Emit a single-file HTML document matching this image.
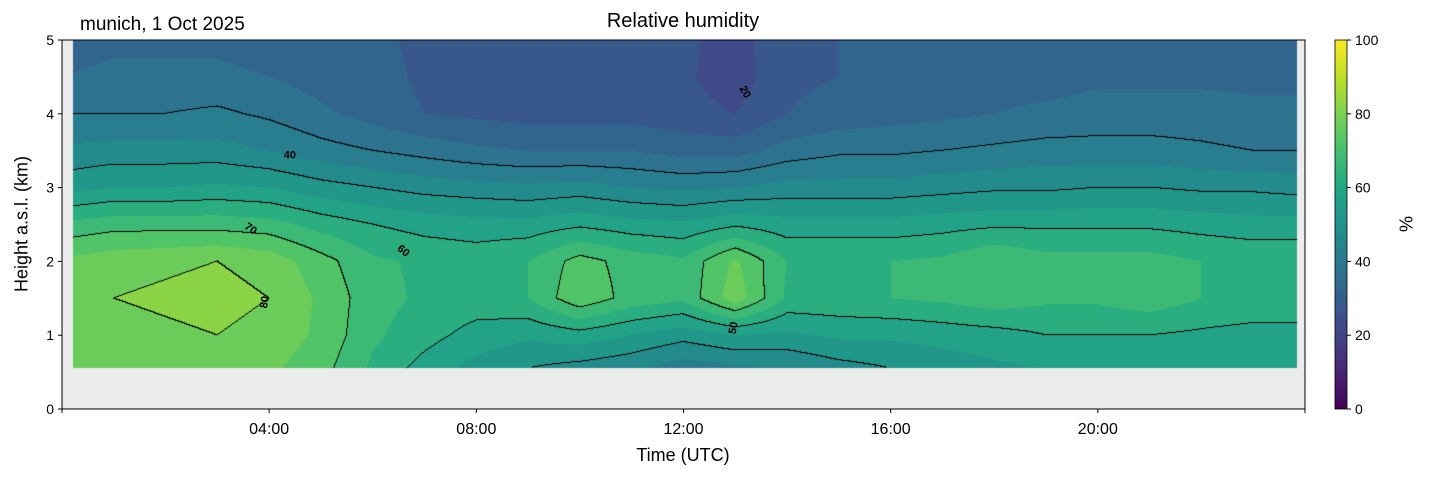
<!DOCTYPE html>
<html><head><meta charset="utf-8"><style>
body{margin:0;background:#fff;font-family:"Liberation Sans","DejaVu Sans",sans-serif;}
#wrap{position:relative;width:1429px;height:478px;overflow:hidden;}
.t{position:absolute;white-space:nowrap;color:#000;}
</style></head><body>
<div id="wrap">
<canvas id="cv" width="1243" height="369" style="position:absolute;left:62px;top:40px"></canvas>
<svg id="sv" width="1429" height="478" style="position:absolute;left:0;top:0"></svg>
<div class="t" style="left:80px;top:14px;font-size:19px">munich, 1 Oct 2025</div>
<div class="t" style="left:683px;top:10px;font-size:20px;transform:translateX(-50%)">Relative humidity</div>
<div class="t" style="left:683px;top:445px;font-size:18px;transform:translateX(-50%)">Time (UTC)</div>
<div class="t" style="left:22px;top:224px;font-size:18px;transform:translate(-50%,-50%) rotate(-90deg)">Height a.s.l. (km)</div>
<div class="t" style="left:1407px;top:224px;font-size:18px;transform:translate(-50%,-50%) rotate(-90deg)">%</div>
</div>
<script>
const hours=[0,1,2,3,4,5,6,7,8,9,10,11,12,13,14,15,16,17,18,19,20,21,22,23,24];
const heights=[0.55,1.0,1.5,2.0,2.5,3.0,3.5,4.0,4.5,5.0];
const rh055=[75,77,78,78,76,72,64,58,53,50,48,46,42,44,45,48,50,52,54,55,56,57,56,55,55];
const rh100=[76,78,79,80,78,74,66,62,58,56,58,55,52,55,54,56,56,57,58,60,60,60,59,58,58];
const rh150=[78,80,81,82,80,74,67,64,63,65,74,68,66,78,64,64,65,66,68,66,66,68,65,64,64];
const rh200=[76,78,79,80,78,72,66,64,63,65,72,68,66,76,65,65,65,66,70,67,67,67,65,64,64];
const rh250=[66,68,68,68,67,63,60,58,57,57,59,57,56,59,57,57,57,58,59,59,59,59,58,57,57];
const rh300=[53,55,55,56,55,52,50,48,47,46,47,45,44,45,47,47,47,48,49,49,50,50,49,49,48];
const rh350=[46,47,47,47,45,42,40,38,36,35,35,35,33,33,37,39,39,40,41,42,42,42,41,40,40];
const rh400=[40,40,40,41,39,36,33,30,29,28,28,28,27,25,30,32,33,34,35,36,37,37,37,36,36];
const rh450=[35,36,36,36,35,33,32,29,28,27,26,27,26,22,29,30,31,32,33,33,34,34,34,34,34];
const rh500=[33,34,34,34,33,32,31,29,28,27,26,27,26,23,29,30,31,32,33,33,33,33,33,33,33];
const grid=[rh055,rh100,rh150,rh200,rh250,rh300,rh350,rh400,rh450,rh500];
const contourLevels=[20,40,50,60,70,80];
const yTicks=[0,1,2,3,4,5];
const xTickHours=[4,8,12,16,20];
const xTickLabels=["04:00","08:00","12:00","16:00","20:00"];
const cbTicks=[0,20,40,60,80,100];

const X0=62,X1=1305,Y0=409,Y1=40;
const xs=h=>X0+(h/24)*(X1-X0);
const ys=k=>Y0-(k/5)*(Y0-Y1);
const vir=["#440154","#482475","#414487","#355f8d","#2a788e","#21918c","#22a884","#44bf70","#7ad151","#bddf26","#fde725"].map(c=>[parseInt(c.substr(1,2),16),parseInt(c.substr(3,2),16),parseInt(c.substr(5,2),16)]);
function cmap(v){v=Math.max(0,Math.min(100,v))/10;const i=Math.min(9,Math.floor(v)),f=v-i;return vir[i].map((a,j)=>a+(vir[i+1][j]-a)*f);}
function val(h,k){
  let hi=Math.max(0,Math.min(hours.length-2,Math.floor(h)));let fh=Math.max(0,Math.min(1,h-hours[hi]));
  let ki=0;while(ki<heights.length-2&&k>heights[ki+1])ki++;
  let fk=Math.max(0,Math.min(1,(k-heights[ki])/(heights[ki+1]-heights[ki])));
  const a=grid[ki][hi]*(1-fh)+grid[ki][hi+1]*fh,b=grid[ki+1][hi]*(1-fh)+grid[ki+1][hi+1]*fh;
  return a*(1-fk)+b*fk;}
function lvl(v){let n=0;for(const L of contourLevels)if(v>=L)n++;return n;}
const cv=document.getElementById('cv'),ctx=cv.getContext('2d');
const W=cv.width,H=cv.height,img=ctx.createImageData(W,H);
const V=new Float32Array(W*H),M=new Uint8Array(W*H);
for(let y=0;y<H;y++)for(let x=0;x<W;x++){
  const h=(x+0.5)/W*24,k=(H-y-0.5)/H*5;
  if(k>=0.55&&h>=0.22&&h<=23.85){M[y*W+x]=1;V[y*W+x]=val(h,k);}
}
for(let y=0;y<H;y++)for(let x=0;x<W;x++){
  const i=y*W+x,p=i*4;let c;
  if(!M[i])c=[235,235,235];
  else{const v=V[i];const l=lvl(v);let edge=false;
    if(x+1<W&&M[i+1]&&lvl(V[i+1])!==l)edge=true;
    if(y+1<H&&M[i+W]&&lvl(V[i+W])!==l)edge=true;
    c=edge?[0,0,0]:cmap(Math.floor(v/5)*5+2.5);}
  img.data[p]=c[0];img.data[p+1]=c[1];img.data[p+2]=c[2];img.data[p+3]=255;}
ctx.putImageData(img,0,0);

const sv=document.getElementById('sv'),NS="http://www.w3.org/2000/svg";
function mk(t,a,txt){const e=document.createElementNS(NS,t);for(const k in a)e.setAttribute(k,a[k]);if(txt!==undefined)e.textContent=txt;sv.appendChild(e);return e;}
let e=mk('rect',{x:X0,y:Y1,width:X1-X0,height:Y0-Y1,fill:'none',stroke:'#000','stroke-width':1});


yTicks.forEach(t=>{const y=ys(t);
  let l=mk('line',{x1:X0-4,x2:X0,y1:y,y2:y,stroke:'#000'});
  
  
  let tx=mk('text',{x:X0-8,y:y+5,'text-anchor':'end','font-size':14,'font-family':'Liberation Sans, sans-serif'},String(t));
  
  });
xTickHours.forEach((h,i)=>{const x=xs(h);
  let l=mk('line',{x1:x,x2:x,y1:Y0,y2:Y0+4,stroke:'#000'});
  
  
  let tx=mk('text',{x:x,y:Y0+25,'text-anchor':'middle','font-size':16,'font-family':'Liberation Sans, sans-serif'},xTickLabels[i]);
  
  });
[0,24].forEach(h=>{let l=mk('line',{x1:xs(h),x2:xs(h),y1:Y0,y2:Y0+4,stroke:'#000'});
  
  });
// colorbar
const CX=1335,CW=12;
const defs=mk('defs',{});const g=document.createElementNS(NS,'linearGradient');
g.setAttribute('id','vg');g.setAttribute('x1','0');g.setAttribute('y1','1');g.setAttribute('x2','0');g.setAttribute('y2','0');defs.appendChild(g);
vir.forEach((c,i)=>{const s=document.createElementNS(NS,'stop');s.setAttribute('offset',i/10);s.setAttribute('stop-color',`rgb(${c})`);g.appendChild(s);});
let cb=mk('rect',{x:CX,y:Y1,width:CW,height:Y0-Y1,fill:'url(#vg)',stroke:'#000','stroke-width':0.8});


cbTicks.forEach(t=>{const y=Y0-(t/100)*(Y0-Y1);
  let l=mk('line',{x1:CX+CW,x2:CX+CW+4,y1:y,y2:y,stroke:'#000'});
  
  
  let tx=mk('text',{x:CX+CW+8,y:y+5,'font-size':14,'font-family':'Liberation Sans, sans-serif'},String(t));
  
  });
// contour labels
const labs=[["40",4.4,3.45,0],["70",3.65,2.45,35],["60",6.6,2.15,40],["80",3.9,1.45,-80],["50",12.95,1.1,-80],["20",13.2,4.3,60]];
labs.forEach(a=>{const x=xs(a[1]),y=ys(a[2]);
  let tx=mk('text',{x:x,y:y+4,'text-anchor':'middle','font-size':11,'font-weight':'bold','font-family':'Liberation Sans, sans-serif',transform:`rotate(${a[3]} ${x} ${y})`},a[0]);
  
  });
</script>
</body></html>
